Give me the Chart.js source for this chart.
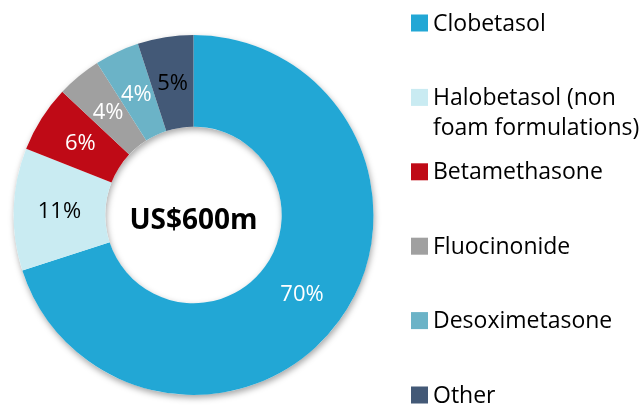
<!DOCTYPE html>
<html>
<head>
<meta charset="utf-8">
<script src="https://cdn.jsdelivr.net/npm/chart.js@4/dist/chart.umd.min.js"></script>
<style>
  html, body { margin: 0; padding: 0; background: #fff; }
  #wrap { width: 644px; height: 406px; position: relative; }
</style>
</head>
<body>
<div id="wrap"><canvas id="chart"></canvas></div>
<script>
const categories = [
  "Clobetasol",
  ["Halobetasol (non", "foam formulations)"],
  "Betamethasone",
  "Fluocinonide",
  "Desoximetasone",
  "Other"
];
const shares = [70, 11, 6, 4, 4, 5];
const colors = ["#22a7d5", "#c9ebf2", "#bf0a16", "#a0a0a0", "#6bb3c7", "#435977"];
const labelColors = ["#fff", "#000", "#fff", "#fff", "#fff", "#000"];
const centerText = "US$600m";
const FONT = "'Open Sans', sans-serif";

// soft drop shadow under the ring
const ringShadow = {
  id: "ringShadow",
  beforeDatasetsDraw(chart) {
    const arc = chart.getDatasetMeta(0).data[0];
    if (!arc) return;
    const { x, y, outerRadius, innerRadius } = arc.getProps(["x", "y", "outerRadius", "innerRadius"], true);
    const ctx = chart.ctx;
    ctx.save();
    ctx.shadowColor = "rgba(0,0,0,0.35)";
    ctx.shadowBlur = 6;
    ctx.shadowOffsetX = 1;
    ctx.shadowOffsetY = 3;
    ctx.fillStyle = "#fff";
    ctx.beginPath();
    ctx.arc(x, y, outerRadius, 0, Math.PI * 2);
    ctx.arc(x, y, innerRadius, 0, Math.PI * 2, true);
    ctx.fill();
    ctx.restore();
  }
};

// percentage labels, centre total, and the legend on the right
const annotations = {
  id: "annotations",
  afterDatasetsDraw(chart) {
    const ctx = chart.ctx;
    const meta = chart.getDatasetMeta(0);
    ctx.save();
    ctx.textAlign = "center";
    ctx.textBaseline = "middle";
    ctx.font = "22px " + FONT;
    meta.data.forEach((arc, i) => {
      const p = arc.tooltipPosition();
      ctx.fillStyle = labelColors[i];
      ctx.fillText(shares[i] + "%", p.x, p.y + 1);
    });

    const c = meta.data[0];
    ctx.fillStyle = "#000";
    ctx.font = "bold 28px " + FONT;
    ctx.fillText(centerText, c.x, c.y + 6);

    // legend
    ctx.textAlign = "left";
    ctx.font = "23px " + FONT;
    const lx = 411, box = 17, top = 23, step = 74.4, lineH = 30;
    categories.forEach((cat, i) => {
      const y = top + i * step;
      ctx.fillStyle = colors[i];
      ctx.fillRect(lx, y - box / 2, box, box);
      ctx.fillStyle = "#000";
      const lines = Array.isArray(cat) ? cat : [cat];
      lines.forEach((t, j) => ctx.fillText(t, lx + 22, y + j * lineH + 1));
    });
    ctx.restore();
  }
};

new Chart(document.getElementById("chart"), {
  type: "doughnut",
  data: {
    labels: categories.map(c => Array.isArray(c) ? c.join(" ") : c),
    datasets: [{
      data: shares,
      backgroundColor: colors,
      borderWidth: 0
    }]
  },
  options: {
    responsive: true,
    maintainAspectRatio: false,
    animation: false,
    cutout: "49%",
    layout: { padding: { left: 13, right: 270, top: 35, bottom: 11 } },
    plugins: {
      legend: { display: false },
      tooltip: { enabled: false }
    }
  },
  plugins: [ringShadow, annotations]
});
</script>
</body>
</html>
